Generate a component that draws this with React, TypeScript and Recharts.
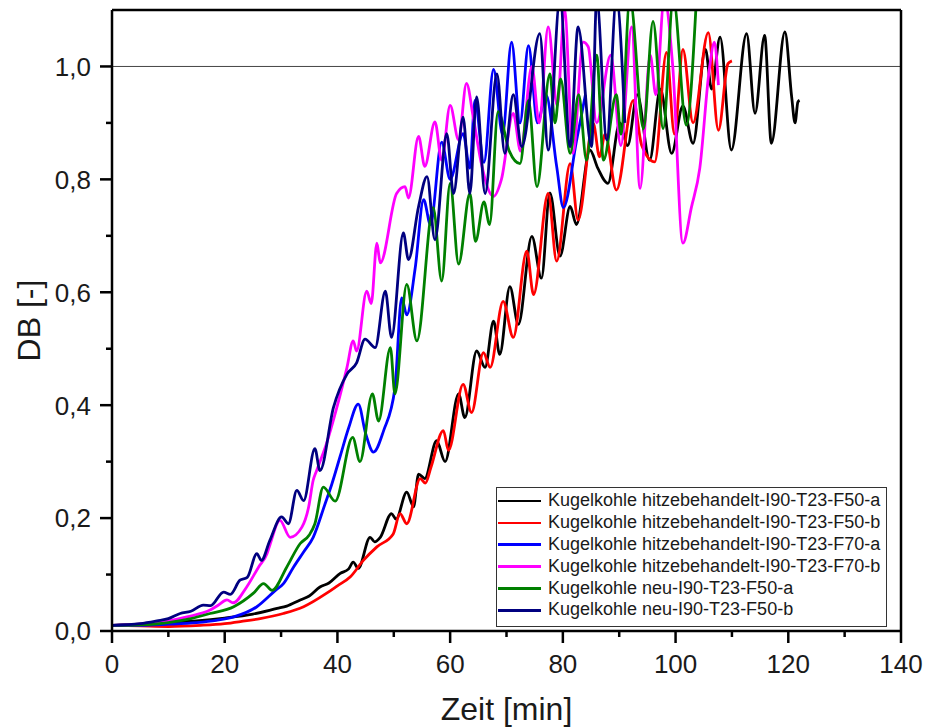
import { LineChart, Line, XAxis, YAxis, ReferenceLine } from "recharts";

// [Zeit in min, DB]
const blackPts: [number, number][] = [
  [0, 0.01], [5, 0.012], [10, 0.015], [15, 0.018], [20, 0.023], [25, 0.03], [29.3, 0.04], [31, 0.044],
  [33.4, 0.055], [35, 0.062], [36.9, 0.078], [38.5, 0.085], [40.5, 0.102], [42, 0.11], [42.8, 0.122],
  [43.7, 0.111], [45.8, 0.166], [46.6, 0.158], [47.6, 0.166], [49.6, 0.208], [50.4, 0.198], [52.3, 0.246],
  [53.5, 0.22], [54.4, 0.278], [55.5, 0.27], [57.6, 0.337], [59.1, 0.3], [61.5, 0.42], [62.6, 0.378],
  [64.7, 0.496], [66.2, 0.467], [67.7, 0.549], [68.8, 0.49], [70.6, 0.61], [72.1, 0.543], [74.5, 0.699],
  [76.2, 0.625], [77.7, 0.776], [79.5, 0.664], [81.3, 0.752], [82.4, 0.72], [84.8, 0.852], [86.2, 0.82],
  [88, 0.793], [90.1, 0.9], [91.5, 0.86], [93.2, 0.95], [95.4, 0.834], [97.3, 0.96], [99.3, 0.846],
  [101.3, 0.93], [103.1, 0.864], [105.3, 1.03], [106.4, 0.96], [107.9, 1.052], [109.9, 0.852],
  [112.6, 1.058], [114.1, 0.917], [115.8, 1.055], [117, 0.864], [119.4, 1.061], [120.6, 0.946],
  [121.2, 0.9], [121.7, 0.937], [122, 0.94],
];

const redPts: [number, number][] = [
  [0, 0.01], [5, 0.009], [10, 0.008], [15.7, 0.01], [20, 0.013], [23, 0.017], [26.3, 0.022], [30.4, 0.031],
  [34, 0.043], [38.1, 0.067], [40, 0.08], [42.3, 0.096], [44.6, 0.125], [47, 0.149], [49.9, 0.172],
  [51.1, 0.208], [52.3, 0.19], [54.7, 0.27], [55.6, 0.262], [56.6, 0.29], [58.8, 0.355], [59.7, 0.32],
  [62.3, 0.437], [63.8, 0.387], [65.9, 0.493], [67.1, 0.467], [69.4, 0.584], [71.2, 0.52], [73.6, 0.673],
  [74.8, 0.596], [77.4, 0.775], [78.9, 0.655], [81.3, 0.828], [82.7, 0.728], [85.4, 0.899], [86.5, 0.84],
  [87.5, 0.88], [89.5, 0.781], [92.5, 0.94], [94, 0.86], [96.3, 0.831], [98.4, 1.025], [99.8, 0.88],
  [101.3, 1.03], [103.1, 0.9], [105.8, 1.06], [107.6, 0.887], [109.3, 1.005], [110, 1.01],
];

const bluePts: [number, number][] = [
  [0, 0.01], [5, 0.01], [10, 0.012], [15, 0.015], [18.5, 0.019], [21.6, 0.025], [25.7, 0.043], [29, 0.072],
  [30.5, 0.085], [32.2, 0.113], [34, 0.14], [35.7, 0.166], [37.8, 0.225], [39, 0.26], [40.5, 0.31],
  [42, 0.36], [43.7, 0.402], [45, 0.35], [46.4, 0.317], [48.2, 0.355], [50.2, 0.43], [51.4, 0.59],
  [52.3, 0.56], [53.8, 0.643], [55.3, 0.764], [56.5, 0.72], [58.5, 0.866], [60, 0.8], [62.3, 0.881],
  [63.5, 0.82], [64.4, 0.94], [66, 0.83], [67.7, 0.995], [69.3, 0.88], [70.9, 1.043], [72.4, 0.9],
  [73.9, 1.037], [75.5, 0.9], [77, 0.95], [78.9, 0.823], [80.1, 0.75], [82.4, 0.867], [84, 0.95],
];

const magentaPts: [number, number][] = [
  [0, 0.01], [5, 0.012], [10, 0.018], [13.3, 0.025], [17.4, 0.037], [18.9, 0.046], [20.4, 0.055],
  [21.5, 0.05], [23.9, 0.078], [26, 0.113], [27.5, 0.137], [28, 0.152], [29.8, 0.196], [31.6, 0.166],
  [33.7, 0.184], [34.9, 0.22], [35.7, 0.267], [36.3, 0.284], [38, 0.33], [39.9, 0.396], [41.7, 0.467],
  [42.8, 0.514], [43.4, 0.496], [45.2, 0.602], [46, 0.58], [47, 0.687], [47.6, 0.652], [50.5, 0.775],
  [52, 0.787], [52.6, 0.767], [54.4, 0.876], [55.5, 0.823], [57.3, 0.902], [58.5, 0.834], [60, 0.931],
  [61.5, 0.87], [62.9, 0.97], [64.1, 0.91], [65.5, 0.83], [67.7, 0.77], [69.1, 0.8], [71.2, 0.917],
  [72.5, 0.85], [74.5, 1.0], [75.8, 0.9], [77.4, 1.07], [79, 0.93], [80.3, 1.1], [81.8, 0.846],
  [83.6, 1.043], [84.5, 1.035], [86, 0.9], [88.5, 1.02], [90.3, 0.86], [92.2, 1.07], [93.7, 0.784],
  [95.5, 1.02], [96.5, 0.95], [98, 1.12], [99.5, 1.0], [101.3, 0.687], [102.8, 0.75], [104.3, 0.82],
  [106, 0.996], [106.9, 1.043], [107.6, 0.967],
];

const greenPts: [number, number][] = [
  [0, 0.01], [5, 0.011], [10, 0.015], [14, 0.022], [17.4, 0.031], [21.6, 0.043], [25.1, 0.067],
  [26.9, 0.084], [28.4, 0.072], [31, 0.113], [33.4, 0.155], [35, 0.17], [36, 0.19], [37.5, 0.255],
  [39.6, 0.23], [42.7, 0.343], [44, 0.3], [46.2, 0.42], [47.3, 0.372], [49.4, 0.502], [50.2, 0.42],
  [52.3, 0.614], [54.1, 0.514], [57, 0.75], [58.5, 0.62], [60, 0.793], [61.5, 0.65], [63.5, 0.775],
  [64.5, 0.69], [66, 0.76], [67, 0.72], [68.5, 0.92], [70.5, 0.85], [72.4, 0.828], [73.9, 0.94],
  [75.4, 0.787], [77.7, 0.987], [78.6, 0.9], [79.6, 0.978], [81.3, 0.846], [82.8, 0.95], [84.2, 0.834],
  [86, 1.02], [87.2, 0.834], [89.5, 0.95], [90.3, 0.88], [91.9, 1.12], [94.3, 0.89], [96, 1.08],
  [97.8, 0.89], [99.6, 1.12], [101.9, 0.896], [103.7, 1.12],
];

const navyPts: [number, number][] = [
  [0, 0.01], [5, 0.013], [8, 0.018], [10, 0.022], [12.1, 0.031], [14, 0.035], [16.2, 0.046], [17.5, 0.045],
  [19.8, 0.069], [21, 0.065], [22.7, 0.09], [24, 0.095], [25.7, 0.137], [26.5, 0.125], [28, 0.16],
  [30.1, 0.202], [31.3, 0.19], [32.8, 0.249], [34, 0.231], [36, 0.323], [36.9, 0.284], [39.3, 0.396],
  [41.7, 0.455], [43.4, 0.475], [44.9, 0.517], [46.7, 0.502], [48.5, 0.602], [49.6, 0.52], [51.7, 0.705],
  [52.6, 0.658], [54.4, 0.752], [55.9, 0.805], [57.3, 0.693], [59.4, 0.881], [60.6, 0.775], [62.3, 0.91],
  [63.5, 0.775], [64.7, 0.946], [66.2, 0.775], [68.3, 0.987], [69.7, 0.846], [71.2, 0.95], [72.7, 0.858],
  [75.9, 1.058], [77.4, 0.852], [79.5, 1.12], [81.3, 0.858], [82.7, 1.07], [85.1, 0.858], [86, 1.12],
  [87.8, 0.87], [89.5, 1.12], [91, 0.9],
];

const seriesNames = [
  "Kugelkohle hitzebehandelt-I90-T23-F50-a",
  "Kugelkohle hitzebehandelt-I90-T23-F50-b",
  "Kugelkohle hitzebehandelt-I90-T23-F70-a",
  "Kugelkohle hitzebehandelt-I90-T23-F70-b",
  "Kugelkohle neu-I90-T23-F50-a",
  "Kugelkohle neu-I90-T23-F50-b",
];
const seriesColors = ["#000000", "#ff0000", "#0000ff", "#ff00ff", "#008000", "#000080"];
const seriesPts = [blackPts, redPts, bluePts, magentaPts, greenPts, navyPts];

const xTicks = [0, 10, 20, 30, 40, 50, 60, 70, 80, 90, 100, 110, 120, 130, 140];
const yTicks = [0, 0.1, 0.2, 0.3, 0.4, 0.5, 0.6, 0.7, 0.8, 0.9, 1.0];

const FONT = '"Liberation Sans", Arial, sans-serif';

const XTick = (props: any) => {
  const { x, y, payload } = props;
  const major = payload.value % 20 === 0;
  return (
    <g>
      <line x1={x} x2={x} y1={y} y2={y + (major ? 12 : 6)} stroke="#000" strokeWidth={2.5} />
      {major && (
        <text x={x} y={y + 42} textAnchor="middle" fontSize={26} fontFamily={FONT} fill="#1a1a1a">
          {payload.value}
        </text>
      )}
    </g>
  );
};

const YTick = (props: any) => {
  const { x, y, payload } = props;
  const major = Math.round(payload.value * 10) % 2 === 0;
  return (
    <g>
      <line x1={x - (major ? 12 : 6)} x2={x} y1={y} y2={y} stroke="#000" strokeWidth={2.5} />
      {major && (
        <text x={x - 21} y={y} dy="0.36em" textAnchor="end" fontSize={26} fontFamily={FONT} fill="#1a1a1a">
          {payload.value.toFixed(1).replace(".", ",")}
        </text>
      )}
    </g>
  );
};

export default function App() {
  return (
    <div style={{ position: "absolute", left: 0, top: 0, width: 925, height: 727, background: "#fff", fontFamily: FONT }}>
      <LineChart width={925} height={727} margin={{ top: 10, right: 24, bottom: 0, left: 0 }}>
        <XAxis
          type="number"
          dataKey="t"
          domain={[0, 140]}
          ticks={xTicks}
          interval={0}
          height={96}
          tick={<XTick />}
          tickLine={false}
          tickSize={0}
          tickMargin={0}
          axisLine={{ stroke: "#000", strokeWidth: 2.5 }}
          allowDataOverflow
          label={{ value: "Zeit [min]", position: "insideBottom", offset: 7, fontSize: 32, fill: "#1a1a1a", fontFamily: FONT }}
        />
        <YAxis
          type="number"
          dataKey="v"
          domain={[0, 1.1]}
          ticks={yTicks}
          interval={0}
          width={112}
          tick={<YTick />}
          tickLine={false}
          tickSize={0}
          tickMargin={0}
          axisLine={{ stroke: "#000", strokeWidth: 2.5 }}
          allowDataOverflow
          label={{ value: "DB [-]", angle: -90, position: "insideLeft", offset: 29, fontSize: 32, fill: "#1a1a1a", fontFamily: FONT, style: { textAnchor: "middle" } }}
        />
        <ReferenceLine y={1} stroke="#444" strokeWidth={1} />
        {seriesPts.map((pts, i) => (
          <Line
            key={seriesNames[i]}
            data={pts.map(([t, v]) => ({ t, v }))}
            dataKey="v"
            name={seriesNames[i]}
            type="monotone"
            stroke={seriesColors[i]}
            strokeWidth={2.8}
            strokeLinejoin="round"
            dot={false}
            isAnimationActive={false}
          />
        ))}
        <ReferenceLine y={1.1} stroke="#000" strokeWidth={2.5} />
        <ReferenceLine x={140} stroke="#000" strokeWidth={2.5} />
      </LineChart>
      <div
        style={{
          position: "absolute",
          left: 496,
          top: 487,
          width: 389,
          height: 136,
          border: "1px solid #333",
          background: "#fff",
          paddingTop: 2,
          boxSizing: "content-box",
        }}
      >
        {seriesNames.map((name, i) => (
          <div key={name} style={{ display: "flex", alignItems: "center", height: 21.9 }}>
            <div style={{ width: 43, height: 2.5, background: seriesColors[i], marginLeft: 1 }} />
            <span style={{ marginLeft: 7, fontSize: 18, color: "#1a1a1a", whiteSpace: "nowrap", lineHeight: "21.9px" }}>{name}</span>
          </div>
        ))}
      </div>
    </div>
  );
}
